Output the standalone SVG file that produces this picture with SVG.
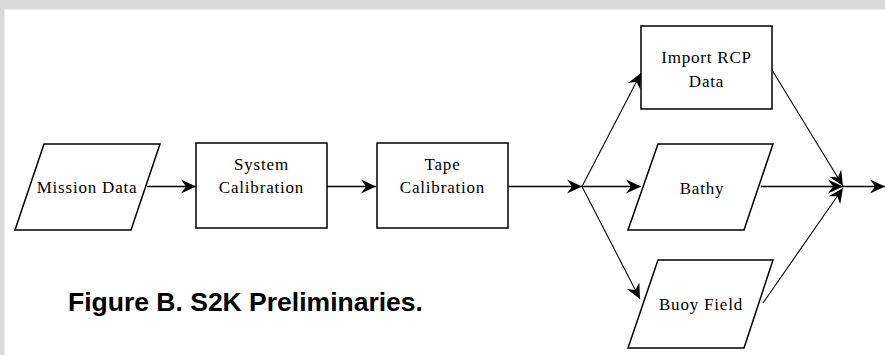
<svg xmlns="http://www.w3.org/2000/svg" width="885" height="355" viewBox="0 0 885 355">
  <style>
    .shape { fill: #fff; stroke: #000; stroke-width: 1.5; }
    .lbl { font-family: "Liberation Serif", "Times New Roman", serif; font-size: 17px; letter-spacing: 0.8px; fill: #000; text-anchor: middle; }
    .wire { fill: none; stroke: #000; stroke-width: 1.5; }
    .thin { fill: none; stroke: #000; stroke-width: 1.1; }
    .caption { font-family: "Liberation Sans", Arial, sans-serif; font-size: 26.5px; font-weight: bold; fill: #000; }
  </style>
  <defs>
    <marker id="head" viewBox="-16 -8 18 16" markerWidth="18" markerHeight="16" refX="0" refY="0" orient="auto" markerUnits="userSpaceOnUse">
      <path d="M0,0 L-15,-7 L-10,0 L-15,7 Z" fill="#000"/>
    </marker>
  </defs>

  <!-- page frame -->
  <rect x="0" y="0" width="885" height="355" fill="#d9d9d9"/>
  <rect x="4.5" y="9.5" width="881" height="346" fill="#fff"/>

  <!-- connectors -->
  <g id="connectors">
    <line class="wire" x1="147" y1="186.5" x2="196" y2="186.5" marker-end="url(#head)"/>
    <line class="wire" x1="327" y1="186.5" x2="376" y2="186.5" marker-end="url(#head)"/>
    <line class="wire" x1="508" y1="186.5" x2="582" y2="186.5" marker-end="url(#head)"/>
    <line class="thin" x1="582" y1="186.5" x2="641" y2="73" marker-end="url(#head)"/>
    <line class="wire" x1="582" y1="186.5" x2="641" y2="186.5" marker-end="url(#head)"/>
    <line class="thin" x1="582" y1="186.5" x2="640" y2="299" marker-end="url(#head)"/>
    <line class="thin" x1="772" y1="70" x2="843" y2="186" marker-end="url(#head)"/>
    <line class="wire" x1="761" y1="186.5" x2="843" y2="186.5" marker-end="url(#head)"/>
    <line class="thin" x1="763" y1="303" x2="843" y2="188" marker-end="url(#head)"/>
    <line class="wire" x1="843" y1="186.5" x2="885" y2="186.5" marker-end="url(#head)"/>
  </g>

  <g id="mission-data">
    <polygon class="shape" points="44,144 160,144 131,230 15,230"/>
    <text class="lbl" x="87" y="193">Mission Data</text>
  </g>

  <g id="system-calibration">
    <rect class="shape" x="196" y="143" width="131" height="85"/>
    <text class="lbl" x="261.5" y="170">System</text>
    <text class="lbl" x="261.5" y="193">Calibration</text>
  </g>

  <g id="tape-calibration">
    <rect class="shape" x="377" y="143" width="131" height="85"/>
    <text class="lbl" x="442.5" y="170">Tape</text>
    <text class="lbl" x="442.5" y="193">Calibration</text>
  </g>

  <g id="import-rcp-data">
    <rect class="shape" x="641" y="26" width="131" height="83"/>
    <text class="lbl" x="706.5" y="63">Import RCP</text>
    <text class="lbl" x="706.5" y="87">Data</text>
  </g>

  <g id="bathy">
    <polygon class="shape" points="658,144 773,144 744,230 628,230"/>
    <text class="lbl" x="702" y="194">Bathy</text>
  </g>

  <g id="buoy-field">
    <polygon class="shape" points="658,260 773,260 744,348 628,348"/>
    <text class="lbl" x="701" y="310">Buoy Field</text>
  </g>

  <text class="caption" x="68" y="311">Figure B. S2K Preliminaries.</text>
</svg>
